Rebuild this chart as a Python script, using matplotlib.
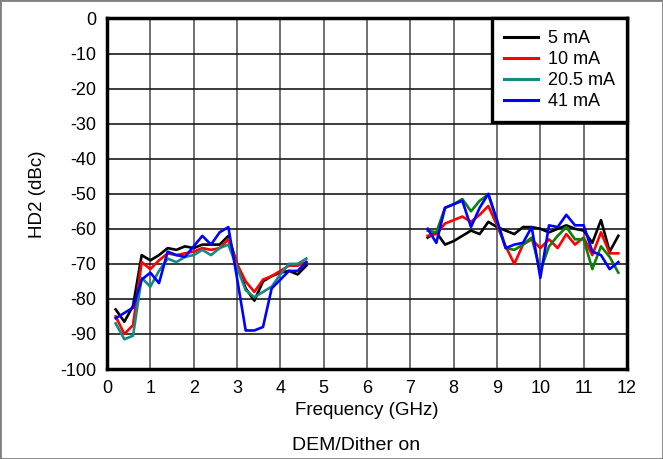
import matplotlib
matplotlib.use("Agg")
import matplotlib.pyplot as plt
from matplotlib.patches import Rectangle

# frequency points (GHz)
freq_low = [0.2, 0.4, 0.6, 0.8, 1.0, 1.2, 1.4, 1.6, 1.8, 2.0, 2.2, 2.4,
            2.6, 2.8, 3.0, 3.2, 3.4, 3.6, 3.8, 4.0, 4.2, 4.4, 4.6]
freq_high = [7.4, 7.6, 7.8, 8.0, 8.2, 8.4, 8.6, 8.8, 9.0, 9.2, 9.4, 9.6,
             9.8, 10.0, 10.2, 10.4, 10.6, 10.8, 11.0, 11.2, 11.4, 11.6, 11.8]

labels = ["5 mA", "10 mA", "20.5 mA", "41 mA"]

# HD2 (dBc), low band
hd2_5ma_low = [-83, -86.5, -82, -67.5, -69, -67.5, -65.5, -66, -65, -65.5, -64.5, -64.5,
               -64.5, -62, -70, -77, -80.5, -75, -73.5, -72.5, -72, -73, -70.5]
hd2_10ma_low = [-85, -90, -87.5, -69.5, -71.5, -69, -67, -67.5, -67, -66.5, -65.5, -66,
                -65.5, -63, -70, -75, -78, -74.5, -73.5, -72, -70.5, -70.5, -69.5]
hd2_20ma_low = [-87, -91.5, -90.5, -74, -76.5, -72, -68.5, -69.5, -68, -67.5, -66, -67.5,
                -65.5, -64.5, -71, -77.5, -79.5, -78, -76.5, -73, -70, -70, -68.5]
hd2_41ma_low = [-85.5, -84, -82.5, -74.5, -72.5, -75.5, -66.5, -67.5, -68, -65, -62, -64.5,
                -61, -59.5, -74, -89, -89, -88, -77, -74.5, -72, -72, -69.5]

# HD2 (dBc), high band
hd2_5ma_high = [-62.5, -61, -64.5, -63.5, -62, -60.5, -61.5, -58, -59.5, -60.5, -61.5, -59.5,
                -59.5, -60, -61, -60, -59, -60, -60.5, -64, -57.5, -66.5, -62]
hd2_10ma_high = [-62, -61.5, -58.5, -57.5, -56.5, -58, -56, -53.5, -59, -65, -70, -64.5,
                 -63, -65.5, -63, -65.5, -61.5, -64.5, -62.5, -67.5, -61, -67, -67]
hd2_20ma_high = [-60.5, -61, -54, -53, -51.5, -55, -52, -50.2, -58, -65.5, -66, -64.5,
                 -62.5, -72, -65, -62, -59.5, -63, -63, -71.5, -65, -68, -72.5]
hd2_41ma_high = [-60, -64, -54, -53, -52, -59.5, -54, -50, -57.5, -65.5, -64.5, -64,
                 -59.5, -74, -59, -59.5, -56, -59, -59, -66.5, -67.5, -71.5, -69.5]

plt.rcParams["font.family"] = ["Liberation Sans", "DejaVu Sans"]
plt.rcParams["axes.unicode_minus"] = False

fig = plt.figure(figsize=(6.63, 4.59), dpi=100)
ax = fig.add_axes([0.1614, 0.196, 0.7843, 0.7637])

series = [
    (hd2_5ma_low, hd2_5ma_high, "#000000", "#000000"),
    (hd2_10ma_low, hd2_10ma_high, "#ff0000", "#ff0000"),
    (hd2_20ma_low, hd2_20ma_high, "#148a80", "#0a820a"),
    (hd2_41ma_low, hd2_41ma_high, "#0000ff", "#0000ff"),
]
for label, (low, high, c_low, c_high) in zip(labels, series):
    ax.plot(freq_low, low, color=c_low, lw=1.9, label=label, zorder=3)
    ax.plot(freq_high, high, color=c_high, lw=1.9, zorder=3)

ax.set_xlim(0, 12)
ax.set_ylim(-100, 0)
ax.set_xticks(range(0, 13))
ax.set_yticks(range(-100, 1, 10))
ax.xaxis.grid(True, color="#666666", lw=1.3)
ax.yaxis.grid(True, color="#1a1a1a", lw=1.2)
ax.set_axisbelow(True)
ax.tick_params(length=0, labelsize=13)
ax.tick_params(axis="y", pad=8)
ax.tick_params(axis="x", pad=8)
for spine in ax.spines.values():
    spine.set_linewidth(2.5)
    spine.set_zorder(5)

ax.set_xlabel("Frequency (GHz)", fontsize=13.5)
ax.xaxis.set_label_coords(0.5, -0.095)
ax.set_ylabel("HD2 (dBc)", fontsize=13.5)
ax.yaxis.set_label_coords(-0.117, 0.5)

leg = ax.legend(loc="upper right", bbox_to_anchor=(1.0, 1.0), borderaxespad=0,
                fontsize=13, fancybox=False, framealpha=1, edgecolor="black",
                handlelength=1.9, handletextpad=0.55, labelspacing=0.22,
                borderpad=0.65)
leg.get_frame().set_linewidth(2.4)
leg.set_zorder(6)
for line in leg.get_lines():
    line.set_linewidth(2.2)

fig.text(0.537, 1 - 445 / 459, "DEM/Dither on", ha="center", va="center", fontsize=14)

fig.patches.append(Rectangle((0, 0), 1, 1, transform=fig.transFigure, fill=False,
                             edgecolor="#808080", lw=2))

fig.savefig("out.png", dpi=100)
